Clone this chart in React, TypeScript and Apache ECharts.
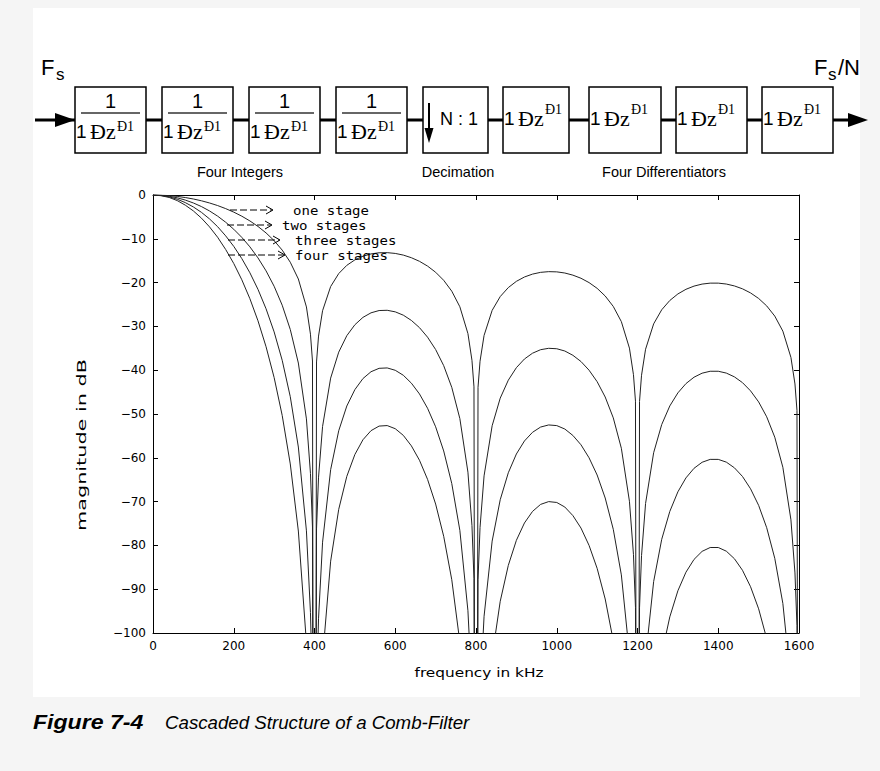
import { useEffect, useRef } from "react";
import * as echarts from "echarts";

// frequency samples (kHz)
const freqKHz = [
  0, 20, 40, 60, 80, 100, 120, 140, 160, 180, 200, 220, 240, 260, 280, 300, 320, 340, 360, 380,
  390, 395, 400, 405, 410,
  420, 440, 460, 480, 500, 520, 540, 560, 580, 600, 620, 640, 660, 680, 700, 720, 740, 760, 780,
  790, 795, 800, 805, 810,
  820, 840, 860, 880, 900, 920, 940, 960, 980, 1000, 1020, 1040, 1060, 1080, 1100, 1120, 1140, 1160, 1180,
  1190, 1195, 1200, 1205, 1210,
  1220, 1240, 1260, 1280, 1300, 1320, 1340, 1360, 1380, 1400, 1420, 1440, 1460, 1480, 1500, 1520, 1540, 1560, 1580,
  1590, 1595, 1600,
];

// magnitude in dB
const oneStage = [
  0, -0.04, -0.14, -0.32, -0.58, -0.91, -1.32, -1.82, -2.41, -3.11, -3.91, -4.84, -5.92, -7.18, -8.66, -10.42, -12.58, -15.35, -19.18, -25.56,
  -31.78, -37.9, -300, -38.12, -32.21,
  -26.42, -20.9, -17.94, -16.06, -14.81, -13.97, -13.45, -13.19, -13.16, -13.34, -13.72, -14.32, -15.14, -16.23, -17.64, -19.48, -21.96, -25.52, -31.64,
  -37.74, -43.81, -300, -43.91, -37.95,
  -32.06, -26.34, -23.19, -21.14, -19.71, -18.72, -18.06, -17.66, -17.5, -17.55, -17.81, -18.3, -19.01, -20.0, -21.31, -23.06, -25.44, -28.91, -34.96,
  -41.02, -47.07, -300, -47.13, -41.15,
  -35.21, -29.42, -26.2, -24.08, -22.59, -21.53, -20.8, -20.34, -20.12, -20.12, -20.33, -20.76, -21.42, -22.36, -23.62, -25.32, -27.65, -31.08, -37.08,
  -43.14, -49.17, -300,
];

const twoStages = [
  0, -0.08, -0.28, -0.64, -1.16, -1.82, -2.64, -3.64, -4.82, -6.22, -7.82, -9.68, -11.84, -14.36, -17.32, -20.84, -25.16, -30.7, -38.36, -51.12,
  -63.56, -75.8, -300, -76.24, -64.42,
  -52.84, -41.8, -35.88, -32.12, -29.62, -27.94, -26.9, -26.38, -26.32, -26.68, -27.44, -28.64, -30.28, -32.46, -35.28, -38.96, -43.92, -51.04, -63.28,
  -75.48, -87.62, -300, -87.82, -75.9,
  -64.12, -52.68, -46.38, -42.28, -39.42, -37.44, -36.12, -35.32, -35.0, -35.1, -35.62, -36.6, -38.02, -40.0, -42.62, -46.12, -50.88, -57.82, -69.92,
  -82.04, -94.14, -300, -94.26, -82.3,
  -70.42, -58.84, -52.4, -48.16, -45.18, -43.06, -41.6, -40.68, -40.24, -40.24, -40.66, -41.52, -42.84, -44.72, -47.24, -50.64, -55.3, -62.16, -74.16,
  -86.28, -98.34, -300,
];

const threeStages = [
  0, -0.12, -0.42, -0.96, -1.74, -2.73, -3.96, -5.46, -7.23, -9.33, -11.73, -14.52, -17.76, -21.54, -25.98, -31.26, -37.74, -46.05, -57.54, -76.68,
  -95.34, -113.7, -300, -114.36, -96.63,
  -79.26, -62.7, -53.82, -48.18, -44.43, -41.91, -40.35, -39.57, -39.48, -40.02, -41.16, -42.96, -45.42, -48.69, -52.92, -58.44, -65.88, -76.56, -94.92,
  -113.22, -131.43, -300, -131.73, -113.85,
  -96.18, -79.02, -69.57, -63.42, -59.13, -56.16, -54.18, -52.98, -52.5, -52.65, -53.43, -54.9, -57.03, -60.0, -63.93, -69.18, -76.32, -86.73, -104.88,
  -123.06, -141.21, -300, -141.39, -123.45,
  -105.63, -88.26, -78.6, -72.24, -67.77, -64.59, -62.4, -61.02, -60.36, -60.36, -60.99, -62.28, -64.26, -67.08, -70.86, -75.96, -82.95, -93.24, -111.24,
  -129.42, -147.51, -300,
];

const fourStages = [
  0, -0.16, -0.56, -1.28, -2.32, -3.64, -5.28, -7.28, -9.64, -12.44, -15.64, -19.36, -23.68, -28.72, -34.64, -41.68, -50.32, -61.4, -76.72, -102.24,
  -127.12, -151.6, -300, -152.48, -128.84,
  -105.68, -83.6, -71.76, -64.24, -59.24, -55.88, -53.8, -52.76, -52.64, -53.36, -54.88, -57.28, -60.56, -64.92, -70.56, -77.92, -87.84, -102.08, -126.56,
  -150.96, -175.24, -300, -175.64, -151.8,
  -128.24, -105.36, -92.76, -84.56, -78.84, -74.88, -72.24, -70.64, -70.0, -70.2, -71.24, -73.2, -76.04, -80.0, -85.24, -92.24, -101.76, -115.64, -139.84,
  -164.08, -188.28, -300, -188.52, -164.6,
  -140.84, -117.68, -104.8, -96.32, -90.36, -86.12, -83.2, -81.36, -80.48, -80.48, -81.32, -83.04, -85.68, -89.44, -94.48, -101.28, -110.6, -124.32, -148.32,
  -172.56, -196.68, -300,
];

const stageNames = ["one stage", "two stages", "three stages", "four stages"];
const blockLabels = ["Four Integers", "Decimation", "Four Differentiators"];
const xAxisName = "frequency in kHz";
const yAxisName = "magnitude in dB";
const captionBold = "Figure 7-4";
const captionText = "Cascaded Structure of a Comb-Filter";

const SANS = '"Liberation Sans", Arial, sans-serif';
const SERIF = '"Liberation Serif", "Times New Roman", serif';
const PLOTFONT = '"DejaVu Sans", sans-serif';
const MONO = '"DejaVu Sans Mono", monospace';

function txt(x: number, y: number, text: string, font: string, align = "left", extra: any = {}) {
  return {
    type: "text",
    x,
    y,
    z: 20,
    silent: true,
    ...extra,
    style: { text, font, fill: "#000", textAlign: align, textVerticalAlign: "middle" },
  };
}

function buildGraphic() {
  const g: any[] = [];
  // signal line through the block chain
  g.push({ type: "line", z: 5, shape: { x1: 35, y1: 120, x2: 852, y2: 120 }, style: { stroke: "#000", lineWidth: 3 } });
  g.push({ type: "polygon", z: 6, shape: { points: [[55, 113], [75, 120], [55, 127]] }, style: { fill: "#000" } });
  g.push({ type: "polygon", z: 6, shape: { points: [[848, 113], [868, 120], [848, 127]] }, style: { fill: "#000" } });

  const boxes = [
    { x: 75, w: 71, kind: "int" },
    { x: 162, w: 71, kind: "int" },
    { x: 249, w: 71, kind: "int" },
    { x: 336, w: 71, kind: "int" },
    { x: 423, w: 65, kind: "dec" },
    { x: 503, w: 66, kind: "diff" },
    { x: 589, w: 72, kind: "diff" },
    { x: 676, w: 71, kind: "diff" },
    { x: 762, w: 71, kind: "diff" },
  ];
  boxes.forEach((b) => {
    g.push({ type: "rect", z: 10, shape: { x: b.x, y: 87, width: b.w, height: 66 }, style: { fill: "#fff", stroke: "#000", lineWidth: 1.5 } });
    if (b.kind === "int") {
      g.push(txt(b.x + b.w / 2, 101, "1", `20px ${SANS}`, "center"));
      g.push({ type: "line", z: 15, shape: { x1: b.x + 6, y1: 113, x2: b.x + b.w - 6, y2: 113 }, style: { stroke: "#333", lineWidth: 1.6 } });
      g.push(txt(b.x + 1, 131, "1", `19px ${SANS}`));
      g.push(txt(b.x + 15, 131, "\u00D0z", `22px ${SERIF}`));
      g.push(txt(b.x + 42, 126, "\u00D01", `14px ${SERIF}`));
    } else if (b.kind === "diff") {
      g.push(txt(b.x + 1, 118, "1", `19px ${SANS}`));
      g.push(txt(b.x + 15, 118, "\u00D0z", `22px ${SERIF}`));
      g.push(txt(b.x + 42, 109, "\u00D01", `14px ${SERIF}`));
    } else {
      g.push({ type: "line", z: 15, shape: { x1: 429, y1: 103, x2: 429, y2: 130 }, style: { stroke: "#000", lineWidth: 2 } });
      g.push({ type: "polygon", z: 15, shape: { points: [[424.5, 128], [433.5, 128], [429, 143]] }, style: { fill: "#000" } });
      g.push(txt(440, 119, "N : 1", `18px ${SANS}`));
    }
  });

  // F_s and F_s/N
  g.push(txt(41, 67, "F", `22px ${SANS}`));
  g.push(txt(56, 74, "s", `17px ${SANS}`));
  g.push(txt(814, 67, "F", `22px ${SANS}`));
  g.push(txt(828, 74, "s", `17px ${SANS}`));
  g.push(txt(838, 67, "/N", `22px ${SANS}`));

  // block group labels
  g.push(txt(240, 172, blockLabels[0], `14.5px ${SANS}`, "center"));
  g.push(txt(458, 172, blockLabels[1], `14.5px ${SANS}`, "center"));
  g.push(txt(664, 172, blockLabels[2], `14.5px ${SANS}`, "center"));

  // in-plot annotations
  const ann = [
    { x0: 230, tip: 273, tx: 293, y: 210 },
    { x0: 227, tip: 272, tx: 282, y: 225 },
    { x0: 228, tip: 280, tx: 295, y: 240 },
    { x0: 228, tip: 285, tx: 295, y: 255 },
  ];
  ann.forEach((a, i) => {
    g.push({ type: "line", z: 20, shape: { x1: a.x0, y1: a.y, x2: a.tip - 1, y2: a.y }, style: { stroke: "#000", lineWidth: 1, lineDash: [7, 3] } });
    g.push({ type: "polyline", z: 20, shape: { points: [[a.tip - 7, a.y - 4], [a.tip, a.y], [a.tip - 7, a.y + 4]] }, style: { stroke: "#000", lineWidth: 1, fill: null } });
    g.push(txt(a.tx, a.y, stageNames[i], `13px ${MONO}`, "left", { scaleX: 1.08 }));
  });

  // axis names
  g.push(txt(479, 672, xAxisName, `13px ${PLOTFONT}`, "center", { scaleX: 1.18 }));
  g.push(txt(82, 445, yAxisName, `13px ${PLOTFONT}`, "center", { rotation: Math.PI / 2, scaleX: 1.6 }));

  // caption
  g.push(txt(33, 722, captionBold, `italic bold 21px ${SANS}`, "left", { scaleX: 1.1 }));
  g.push(txt(165, 722, captionText, `italic 18.7px ${SANS}`));
  return g;
}

export default function App() {
  const ref = useRef<HTMLDivElement>(null);
  useEffect(() => {
    const el = ref.current;
    if (!el) return;
    const chart = echarts.init(el, null, { renderer: "svg", width: 880, height: 771 });
    const axisLine = { show: true, onZero: false, lineStyle: { color: "#000", width: 1 } };
    const tick = { show: true, inside: true, length: 5, lineStyle: { color: "#000", width: 1 } };
    const mk = (vals: number[], name: string) => ({
      type: "line",
      name,
      data: freqKHz.map((f, i) => [f, vals[i]]),
      showSymbol: false,
      symbol: "none",
      clip: true,
      silent: true,
      lineStyle: { color: "#222", width: 1 },
      z: 3,
    });
    chart.setOption({
      animation: false,
      backgroundColor: "transparent",
      grid: { left: 153, right: 81, top: 195, bottom: 138, containLabel: false },
      xAxis: [
        {
          type: "value", min: 0, max: 1600, interval: 200, position: "bottom",
          axisLine, axisTick: tick, splitLine: { show: false },
          axisLabel: {
            color: "#000", fontFamily: "DejaVu Sans", fontSize: 12, margin: 7, showMinLabel: true, showMaxLabel: true,
            formatter: (v: number) => String(v),
          },
        },
        {
          type: "value", min: 0, max: 1600, interval: 200, position: "top",
          axisLine, axisTick: tick, splitLine: { show: false }, axisLabel: { show: false },
        },
      ],
      yAxis: [
        {
          type: "value", min: -100, max: 0, interval: 10, position: "left",
          axisLine, axisTick: tick, splitLine: { show: false },
          axisLabel: {
            color: "#000", fontFamily: "DejaVu Sans", fontSize: 12, margin: 7, showMinLabel: true, showMaxLabel: true,
            formatter: (v: number) => (v === 0 ? "0" : "\u2212" + Math.abs(v)),
          },
        },
        {
          type: "value", min: -100, max: 0, interval: 10, position: "right",
          axisLine, axisTick: tick, splitLine: { show: false }, axisLabel: { show: false },
        },
      ],
      series: [
        mk(oneStage, stageNames[0]),
        mk(twoStages, stageNames[1]),
        mk(threeStages, stageNames[2]),
        mk(fourStages, stageNames[3]),
      ],
      graphic: { elements: buildGraphic() },
    });
    return () => chart.dispose();
  }, []);

  return (
    <div style={{ position: "absolute", left: 0, top: 0, width: 880, height: 771, background: "#f5f5f5", overflow: "hidden" }}>
      <div style={{ position: "absolute", left: 33, top: 8, width: 827, height: 689, background: "#fff" }} />
      <div ref={ref} style={{ position: "absolute", left: 0, top: 0, width: 880, height: 771 }} />
    </div>
  );
}
